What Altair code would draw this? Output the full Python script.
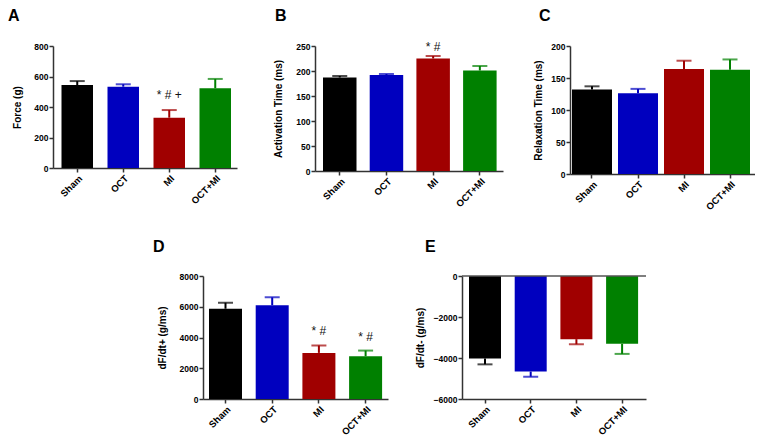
import altair as alt
import pandas as pd

groups = ["Sham", "OCT", "MI", "OCT+MI"]
colors = ["#000000", "#0000bf", "#a00000", "#008000"]

force_mean = [544, 533, 330, 523]
force_sem = [26, 16, 50, 61]
force_annot = ["", "", "* # +", ""]

act_mean = [187, 192, 225, 201]
act_sem = [3, 2, 5, 9]
act_annot = ["", "", "* #", ""]

rel_mean = [132, 126, 164, 163]
rel_sem = [5, 7, 13, 16]
rel_annot = ["", "", "", ""]

dfp_mean = [5870, 6100, 3000, 2780]
dfp_sem = [390, 510, 480, 370]
dfp_annot = ["", "", "* #", "* #"]

dfm_mean = [-4030, -4660, -3080, -3310]
dfm_sem = [280, 250, 250, 490]
dfm_annot = ["", "", "", ""]

FONT = "Liberation Sans"
AX = "#333333"


def band(width, step, bar, offset):
    n = len(groups)
    pi = 1 - bar / step
    po = max((width / step - n + pi) / 2, 0)
    left = width - (step * (n - 1) + bar)
    align = offset / left if left > 0 else 0.5
    align = min(max(align, 0), 1)
    return alt.Scale(domain=groups, paddingInner=pi, paddingOuter=po, align=align, round=False)


def panel(letter, mean, sem, annot, ytitle, ydomain, yvalues, width, height,
          step, bar, offset, letter_x, letter_y, title_pad, annot_dy, zero_line=False):
    df = pd.DataFrame({"group": groups, "mean": mean, "sem": sem, "annot": annot})
    xscale = band(width, step, bar, offset)
    xaxis = alt.Axis(title=None, labelAngle=-45, labelAlign="right",
                     labelBaseline="top", labelFontSize=9.5, labelPadding=1,
                     tickSize=4, labelFontWeight="bold")
    xenc = alt.X("group:N", scale=xscale, sort=groups, axis=xaxis)
    yscale = alt.Scale(domain=ydomain, nice=False, zero=True)
    yaxis = alt.Axis(title=ytitle, values=yvalues, titlePadding=title_pad, format="d")

    def Y(field):
        return alt.Y(field, scale=yscale, axis=yaxis, title=ytitle)

    col = alt.Color("group:N", scale=alt.Scale(domain=groups, range=colors), legend=None)
    base = alt.Chart(df).transform_calculate(
        err="datum.mean + (datum.mean < 0 ? -1 : 1) * datum.sem")
    layers = []
    bars = base.mark_bar().encode(x=xenc, y=Y("mean:Q"), color=col)
    layers.append(bars)
    stem = base.mark_rule(strokeWidth=2).encode(
        x=xenc, y=Y("mean:Q"), y2="err:Q", color=col)
    cap = base.mark_tick(thickness=2, size=15).encode(
        x=xenc, y=Y("err:Q"), color=col)
    layers += [stem, cap]
    txt = base.mark_text(dy=annot_dy, fontSize=12, font=FONT, baseline="middle",
                         color="#111111").encode(
        x=xenc, y=Y("err:Q"), text="annot:N")
    layers.append(txt)
    if zero_line:
        zl = alt.Chart(pd.DataFrame({"z": [0]})).mark_rule(color="#555555", strokeWidth=1.5).encode(
            y=Y("z:Q"))
        layers.append(zl)
    lt = alt.Chart(pd.DataFrame({"t": [letter]})).mark_text(
        align="left", baseline="top", fontSize=16, fontWeight="bold", font=FONT,
        color="#000000").encode(text="t:N", x=alt.value(letter_x), y=alt.value(letter_y))
    layers.append(lt)
    return alt.layer(*layers).properties(width=width, height=height)


def spacer(w):
    return alt.Chart(pd.DataFrame({"a": [0]})).mark_point(opacity=0, size=1).encode(
        x=alt.value(0), y=alt.value(0)).properties(width=w, height=10)


A = panel("A", force_mean, force_sem, force_annot, "Force (g)", [0, 800],
          [0, 200, 400, 600, 800], 184, 122, 46, 31.5, 8.5, -45, -38, 11, -15)
B = panel("B", act_mean, act_sem, act_annot, "Activation Time (ms)", [0, 250],
          [0, 50, 100, 150, 200, 250], 188, 125, 46.7, 33.5, 8, -40, -38, 12, -9)
C = panel("C", rel_mean, rel_sem, rel_annot, "Relaxation Time (ms)", [0, 200],
          [0, 50, 100, 150, 200], 185, 128, 46, 40, 2, -31, -38, 7, -12)
D = panel("D", dfp_mean, dfp_sem, dfp_annot, "dF/dt+ (g/ms)", [0, 8000],
          [0, 2000, 4000, 6000, 8000], 185, 123, 46.7, 33, 6, -50, -37, 12, -14)
E = panel("E", dfm_mean, dfm_sem, dfm_annot, "dF/dt- (g/ms)", [-6000, 0],
          [-6000, -4000, -2000, 0], 184, 123, 45.7, 32, 7, -37, -37, 8, 14, zero_line=True)

top = alt.hconcat(A, spacer(46), B, spacer(35), C, spacing=16, bounds="flush")
bottom = alt.hconcat(spacer(134), D, spacer(42), E, spacing=16, bounds="flush")

chart = alt.vconcat(top, bottom, spacing=230, bounds="flush").properties(
    padding={"left": 0, "top": 0, "right": 0, "bottom": 0},
    background="white",
).configure_view(stroke=None).configure_axis(
    grid=False,
    domainColor=AX, domainWidth=1.5, tickColor=AX, tickWidth=1.5, tickSize=4,
    labelFont=FONT, labelFontWeight="bold", labelFontSize=8.5, labelColor="#000000",
    labelPadding=1, titleFont=FONT, titleFontWeight="bold", titleFontSize=10,
    titleColor="#000000",
)

chart.save("out.html", embed_options={"renderer": "svg", "actions": False})
